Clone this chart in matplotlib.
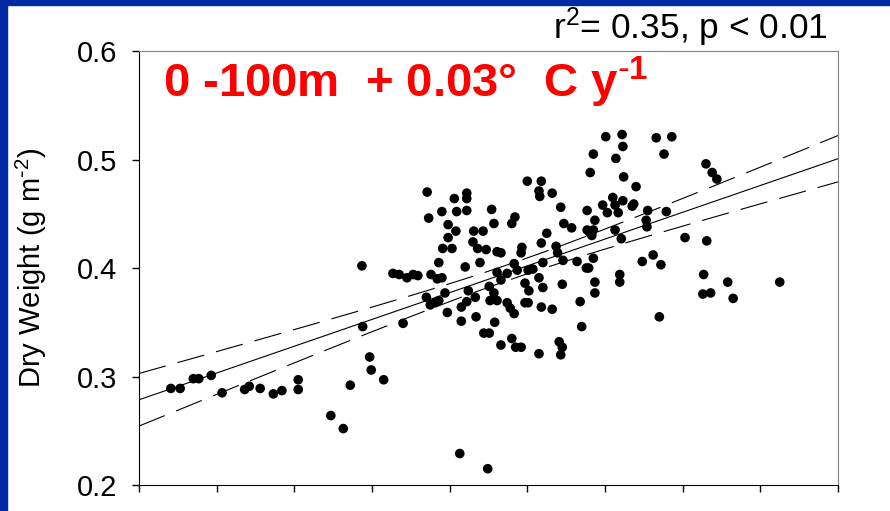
import numpy as np
import matplotlib.pyplot as plt
from matplotlib.patches import Rectangle

plt.rcParams['font.family'] = ['Liberation Sans', 'DejaVu Sans']
plt.rcParams['mathtext.default'] = 'regular'

#%% data (x in axis units 0..9, y dry weight g m-2)
x_vals = [0.41, 0.53, 0.70, 0.77, 0.93, 1.07, 1.36, 1.42, 1.56, 1.73,
          1.84, 2.05, 2.05, 2.47, 2.63, 2.72, 2.87, 2.88, 2.97, 2.99,
          3.15, 3.40, 3.27, 3.35, 3.45, 3.53, 3.59, 3.71, 4.06, 4.22,
          4.22, 4.22, 4.09, 3.90, 3.73, 4.54, 4.57, 3.98, 4.08, 3.98,
          3.91, 4.03, 4.31, 4.43, 4.30, 4.36, 4.47, 4.61, 4.66, 3.76,
          3.84, 3.90, 3.86, 4.20, 4.39, 4.61, 3.94, 3.70, 3.75, 3.81,
          3.86, 3.97, 4.24, 4.33, 4.22, 4.15, 4.51, 4.57, 4.52, 4.61,
          4.34, 4.15, 4.58, 4.44, 4.51, 4.13, 4.49, 4.84, 4.80, 5.00,
          5.18, 5.15, 5.16, 5.32, 5.43, 5.25, 5.18, 4.93, 4.92, 5.37,
          5.39, 5.46, 5.20, 4.83, 4.87, 4.74, 5.01, 5.07, 4.97, 5.02,
          5.15, 5.20, 5.47, 5.57, 4.74, 4.78, 4.83, 4.97, 5.01, 5.18,
          5.32, 4.66, 4.80, 4.85, 4.92, 5.15, 5.41, 5.45, 5.43, 5.45,
          5.64, 5.76, 5.79, 5.85, 5.87, 5.87, 5.68, 5.70, 6.19, 6.19,
          5.77, 5.87, 5.77, 5.81, 5.85, 5.83, 6.13, 6.21, 5.97, 6.03,
          6.10, 6.13, 6.23, 6.17, 6.35, 6.37, 6.01, 6.22, 6.23, 5.85,
          6.14, 5.81, 6.24, 6.40, 6.55, 6.53, 6.54, 6.48, 6.66, 6.86,
          6.76, 7.30, 7.38, 7.44, 6.79, 7.03, 7.31, 6.62, 6.72, 7.27,
          7.58, 8.25, 7.26, 7.36, 7.65, 6.70, 4.66]
dry_weight = [0.289, 0.289, 0.298, 0.298, 0.301, 0.285, 0.288, 0.291, 0.289, 0.284,
              0.287, 0.297, 0.288, 0.264, 0.252, 0.292, 0.402, 0.346, 0.318, 0.306,
              0.297, 0.349, 0.395, 0.394, 0.391, 0.394, 0.393, 0.470, 0.464, 0.469,
              0.464, 0.453, 0.452, 0.452, 0.446, 0.454, 0.441, 0.440, 0.434, 0.428,
              0.418, 0.418, 0.434, 0.434, 0.424, 0.418, 0.417, 0.415, 0.414, 0.394,
              0.390, 0.391, 0.405, 0.401, 0.405, 0.396, 0.377, 0.373, 0.366, 0.368,
              0.370, 0.359, 0.379, 0.373, 0.369, 0.364, 0.383, 0.377, 0.370, 0.370,
              0.355, 0.351, 0.350, 0.340, 0.340, 0.229, 0.215, 0.447, 0.441, 0.480,
              0.480, 0.471, 0.466, 0.469, 0.456, 0.432, 0.423, 0.419, 0.414, 0.420,
              0.414, 0.407, 0.405, 0.404, 0.398, 0.395, 0.398, 0.399, 0.386, 0.379,
              0.391, 0.382, 0.441, 0.437, 0.368, 0.363, 0.358, 0.368, 0.368, 0.364,
              0.362, 0.329, 0.335, 0.327, 0.327, 0.321, 0.332, 0.327, 0.320, 0.385,
              0.406, 0.400, 0.400, 0.409, 0.387, 0.377, 0.369, 0.346, 0.394, 0.387,
              0.453, 0.444, 0.435, 0.432, 0.435, 0.430, 0.435, 0.427, 0.458, 0.451,
              0.465, 0.458, 0.462, 0.451, 0.457, 0.459, 0.521, 0.523, 0.512, 0.505,
              0.501, 0.488, 0.484, 0.475, 0.453, 0.444, 0.438, 0.406, 0.520, 0.521,
              0.505, 0.496, 0.488, 0.482, 0.452, 0.428, 0.425, 0.412, 0.403, 0.394,
              0.387, 0.387, 0.376, 0.377, 0.372, 0.355, 0.389]
x_ticks = np.arange(0, 10)
y_ticks = [0.2, 0.3, 0.4, 0.5, 0.6]
stats_text = "r$^2$= 0.35, p < 0.01"
trend_text = r"0 -100m  + 0.03°  C y$^{\text{-}1}$"
y_label = r"Dry Weight (g m$^{\text{-}2}$)"

x = np.array(x_vals)
y = np.array(dry_weight)

#%% linear fit + 95% confidence band
slope, intercept = np.polyfit(x, y, 1)
n = len(x)
resid = y - (slope * x + intercept)
s = np.sqrt(np.sum(resid ** 2) / (n - 2))
sxx = np.sum((x - x.mean()) ** 2)
xf = np.linspace(0, 9, 200)
yf = slope * xf + intercept
ci = 1.97 * s * np.sqrt(1.0 / n + (xf - x.mean()) ** 2 / sxx)

#%%
fig = plt.figure(figsize=(8.9, 5.11), dpi=100)
fig.patches.append(Rectangle((0, 1 - 5 / 511), 1, 5 / 511, transform=fig.transFigure,
                             color='#0029a3', zorder=0))
fig.patches.append(Rectangle((0, 0), 7 / 890, 1, transform=fig.transFigure,
                             color='#0029a3', zorder=0))
ax = fig.add_axes([139 / 890, 1 - 485 / 511, 699 / 890, 434 / 511])

ax.plot(xf, yf, color='black', lw=0.8, zorder=2)
ax.plot(xf, yf + ci, color='black', lw=0.8, linestyle=(0, (25, 11)), zorder=2)
ax.plot(xf, yf - ci, color='black', lw=0.8, linestyle=(0, (25, 11)), zorder=2)
ax.scatter(x, y, s=48, color='black', edgecolors='none', zorder=3)

ax.set_xlim(0, 9)
ax.set_ylim(0.2, 0.6)
ax.set_xticks(x_ticks)
ax.set_xticklabels([])
ax.set_yticks(y_ticks)
ax.set_yticklabels(['%.1f' % v for v in y_ticks], fontsize=21)
ax.tick_params(direction='out', length=5, width=1, pad=11)
for side in ['top', 'right']:
    ax.spines[side].set_color('#808080')
for side in ['left', 'bottom']:
    ax.spines[side].set_color('black')

ax.set_ylabel(y_label, fontsize=21)
ax.yaxis.set_label_coords(-0.129, 0.5)

ax.text(0.985, 1.0277, stats_text, transform=ax.transAxes, fontsize=25.5,
        ha='right', va='baseline')
ax.text(0.035, 0.894, trend_text, transform=ax.transAxes, fontsize=34,
        color='#ff0000', fontweight='bold', ha='left', va='baseline')

plt.savefig("out.png", dpi=100)
plt.close(fig)
